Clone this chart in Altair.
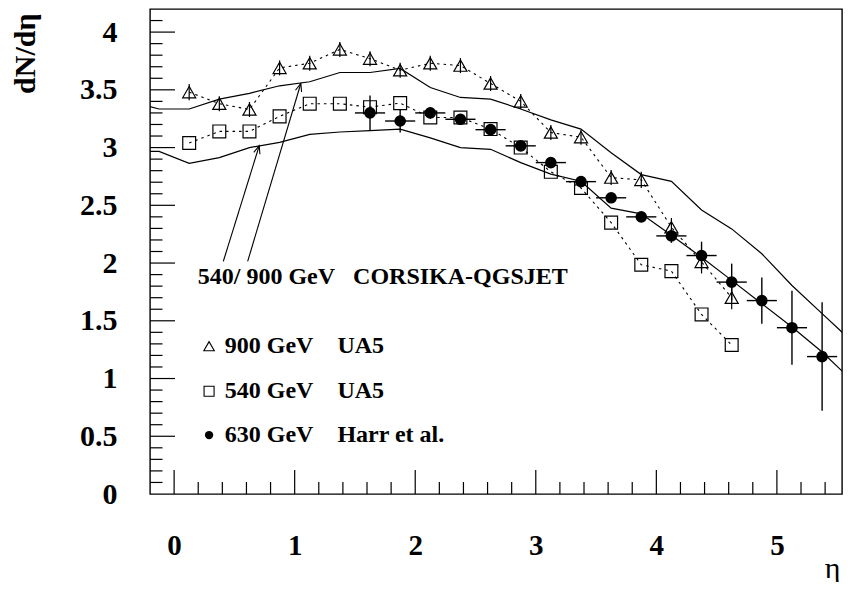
import math
import altair as alt
import numpy as np
import pandas as pd

# ---------------- data ----------------
ua5_eta = [0.125, 0.375, 0.625, 0.875, 1.125, 1.375, 1.625, 1.875, 2.125, 2.375,
           2.625, 2.875, 3.125, 3.375, 3.625, 3.875, 4.125, 4.375, 4.625]
ua5_900 = [3.48, 3.38, 3.33, 3.69, 3.73, 3.85, 3.77, 3.67, 3.73, 3.71,
           3.555, 3.40, 3.13, 3.09, 2.74, 2.72, 2.31, 2.01, 1.70]
ua5_900_err = [0.07, 0.065, 0.065, 0.065, 0.065, 0.065, 0.065, 0.065, 0.065, 0.065,
               0.065, 0.065, 0.065, 0.065, 0.065, 0.07, 0.08, 0.10, 0.10]
ua5_540 = [3.04, 3.14, 3.14, 3.27, 3.38, 3.38, 3.35, 3.385, 3.26, 3.26,
           3.16, 3.00, 2.79, 2.65, 2.35, 1.985, 1.93, 1.555, 1.29]

harr_eta = [1.625, 1.875, 2.125, 2.375, 2.625, 2.875, 3.125, 3.375, 3.625, 3.875,
            4.125, 4.375, 4.625, 4.875, 5.125, 5.375]
harr_630 = [3.30, 3.23, 3.30, 3.245, 3.155, 3.015, 2.87, 2.705, 2.565, 2.40,
            2.235, 2.065, 1.835, 1.675, 1.44, 1.19]
harr_err = [0.15, 0.10, 0.05, 0.04, 0.04, 0.04, 0.04, 0.04, 0.04, 0.04,
            0.06, 0.12, 0.16, 0.20, 0.32, 0.47]
harr_half_bin = 0.125

qgs_eta = [-0.375, -0.125, 0.125, 0.375, 0.625, 0.875, 1.125, 1.375, 1.625, 1.875,
           2.125, 2.375, 2.625, 2.875, 3.125, 3.375, 3.625, 3.875, 4.125, 4.375,
           4.625, 4.875, 5.125, 5.375, 5.625]
qgs_900 = [3.40, 3.334, 3.334, 3.42, 3.47, 3.535, 3.57, 3.65, 3.65, 3.685,
           3.52, 3.434, 3.42, 3.334, 3.24, 3.16, 2.955, 2.766, 2.708, 2.46,
           2.296, 2.08, 1.806, 1.562, 1.32]
qgs_540 = [2.97, 2.967, 2.863, 2.913, 3.00, 3.045, 3.114, 3.135, 3.146, 3.16,
           3.084, 3.00, 2.985, 2.87, 2.77, 2.708, 2.475, 2.426, 2.24, 2.05,
           1.85, 1.648, 1.446, 1.23, 0.98]

x_tick_labels = [0, 1, 2, 3, 4, 5]
y_tick_labels = [0, 0.5, 1, 1.5, 2, 2.5, 3, 3.5, 4]

arrow_x0 = [0.408, 0.61]
arrow_y0 = [2.014, 2.014]
arrow_x1 = [0.706, 1.051]
arrow_y1 = [3.016, 3.555]

note_text = "540/\u00a0900\u00a0GeV\u00a0\u00a0\u00a0CORSIKA-QGSJET"
note_x = [0.196]
note_y = [1.88]

legend_labels = ["900\u00a0GeV\u00a0\u00a0\u00a0\u00a0UA5",
                 "540\u00a0GeV\u00a0\u00a0\u00a0\u00a0UA5",
                 "630\u00a0GeV\u00a0\u00a0\u00a0\u00a0Harr et al."]
legend_y = [1.28, 0.89, 0.51]
legend_sym_x = 0.29
legend_txt_x = 0.42

# ---------------- geometry / style ----------------
W, H = 692, 485
XD = [-0.2, 5.54]
YD = [0.0, 4.2]
FONT = "Liberation Serif"

xs = alt.Scale(domain=XD, nice=False, zero=False)
ys = alt.Scale(domain=YD, nice=False, zero=False)

x_axis = alt.Axis(values=x_tick_labels, format="~g", ticks=False, tickSize=0, domain=False,
                  grid=False, labelFont=FONT, labelFontWeight="bold", labelFontSize=29,
                  labelColor="black", labelPadding=37, title="η", titleFont=FONT,
                  titleFontWeight="normal", titleFontSize=30, titleColor="black",
                  titleAlign="right", titleBaseline="alphabetic", titleX=W - 2, titleY=83)
y_axis = alt.Axis(values=y_tick_labels, format="~g", ticks=False, tickSize=0, domain=False,
                  grid=False, labelFont=FONT, labelFontWeight="bold", labelFontSize=30,
                  labelColor="black", labelPadding=33, title="dN/dη", titleFont=FONT,
                  titleFontWeight="bold", titleFontSize=30, titleColor="black",
                  titleAngle=270, titleAlign="right", titleBaseline="alphabetic",
                  titleX=-116, titleY=4)


def X(field):
    return alt.X(field, type="quantitative", scale=xs, axis=x_axis)


def Y(field):
    return alt.Y(field, type="quantitative", scale=ys, axis=y_axis)


# ---------------- tables ----------------
ua5 = pd.DataFrame({"x": ua5_eta, "y900": ua5_900, "e900": ua5_900_err, "y540": ua5_540})
ua5["lo"] = ua5["y900"] - ua5["e900"]
ua5["hi"] = ua5["y900"] + ua5["e900"]

harr = pd.DataFrame({"x": harr_eta, "y": harr_630, "e": harr_err})
harr["lo"] = harr["y"] - harr["e"]
harr["hi"] = harr["y"] + harr["e"]
harr["xl"] = harr["x"] - harr_half_bin
harr["xh"] = harr["x"] + harr_half_bin

qgs = pd.DataFrame({"x": qgs_eta * 2, "y": qgs_900 + qgs_540,
                    "s": ["900"] * len(qgs_eta) + ["540"] * len(qgs_eta)})

xt_major = pd.DataFrame({"v": x_tick_labels})
xt_minor = pd.DataFrame({"v": [v for v in np.round(np.arange(-0.2, 5.5, 0.2), 2)
                               if abs(v - round(v)) > 1e-6 and v > XD[0]]})
yt_major = pd.DataFrame({"v": [v for v in y_tick_labels if v > 0]})
yt_minor = pd.DataFrame({"v": [v for v in np.round(np.arange(0.1, 4.2, 0.1), 2)
                               if abs(v * 2 - round(v * 2)) > 1e-6]})

px_x = W / (XD[1] - XD[0])
px_y = H / (YD[1] - YD[0])
arrows = pd.DataFrame({"x0": arrow_x0, "y0": arrow_y0, "x1": arrow_x1, "y1": arrow_y1})
arrows["ang"] = [math.degrees(math.atan2((b - a) * px_x, (d - c) * px_y))
                 for a, b, c, d in zip(arrow_x0, arrow_x1, arrow_y0, arrow_y1)]

note = pd.DataFrame({"x": note_x, "y": note_y, "t": [note_text]})
legend = pd.DataFrame({"sx": [legend_sym_x] * 3, "tx": [legend_txt_x] * 3,
                       "y": legend_y, "t": legend_labels})

# ---------------- layers ----------------
tick_x_major = alt.Chart(xt_major).mark_rule(color="black", strokeWidth=1.2).encode(
    x=X("v"), y=alt.value(H), y2=alt.value(H - 24))
tick_x_minor = alt.Chart(xt_minor).mark_rule(color="black", strokeWidth=1.2).encode(
    x=X("v"), y=alt.value(H), y2=alt.value(H - 12))
tick_y_major = alt.Chart(yt_major).mark_rule(color="black", strokeWidth=1.2).encode(
    y=Y("v"), x=alt.value(0), x2=alt.value(25))
tick_y_minor = alt.Chart(yt_minor).mark_rule(color="black", strokeWidth=1.2).encode(
    y=Y("v"), x=alt.value(0), x2=alt.value(12.5))

qgs_lines = alt.Chart(qgs).mark_line(color="black", strokeWidth=1.2, clip=True).encode(
    x=X("x"), y=Y("y"), detail="s:N")

dot900 = alt.Chart(ua5).mark_line(color="black", strokeWidth=1.1, strokeDash=[2.5, 4]).encode(
    x=X("x"), y=Y("y900"))
dot540 = alt.Chart(ua5).mark_line(color="black", strokeWidth=1.1, strokeDash=[2.5, 4]).encode(
    x=X("x"), y=Y("y540"))

err900 = alt.Chart(ua5).mark_rule(color="black", strokeWidth=1.2).encode(
    x=X("x"), y=Y("lo"), y2="hi")
harr_v = alt.Chart(harr).mark_rule(color="black", strokeWidth=1.4).encode(
    x=X("x"), y=Y("lo"), y2="hi")
harr_h = alt.Chart(harr).mark_rule(color="black", strokeWidth=1.4).encode(
    x=X("xl"), x2="xh", y=Y("y"))

tri = alt.Chart(ua5).mark_point(shape="triangle-up", size=170, filled=False, color="black",
                                strokeWidth=1.2, opacity=1).encode(x=X("x"), y=Y("y900"))
sq = alt.Chart(ua5).mark_point(shape="square", size=165, filled=False, color="black",
                               strokeWidth=1.2, opacity=1).encode(x=X("x"), y=Y("y540"))
dots = alt.Chart(harr).mark_point(shape="circle", size=135, filled=True, color="black",
                                  opacity=1).encode(x=X("x"), y=Y("y"))

arrow_lines = alt.Chart(arrows).mark_rule(color="black", strokeWidth=1.1).encode(
    x=X("x0"), y=Y("y0"), x2="x1", y2="y1")
arrow_heads = alt.Chart(arrows).mark_point(
    shape="M -0.4 1 L 0 0 L 0.4 1", size=256, filled=False, color="black",
    strokeWidth=1.1, opacity=1).encode(x=X("x1"), y=Y("y1"), angle=alt.Angle("ang:Q", scale=None))

note_txt = alt.Chart(note).mark_text(align="left", baseline="middle", font=FONT,
                                     fontWeight="bold", fontSize=24, color="black").encode(
    x=X("x"), y=Y("y"), text="t:N")

leg_tri = alt.Chart(legend.iloc[[0]]).mark_point(shape="triangle-up", size=110, filled=False,
                                                 color="black", strokeWidth=1.1, opacity=1).encode(
    x=X("sx"), y=Y("y"))
leg_sq = alt.Chart(legend.iloc[[1]]).mark_point(shape="square", size=100, filled=False,
                                                color="black", strokeWidth=1.1, opacity=1).encode(
    x=X("sx"), y=Y("y"))
leg_dot = alt.Chart(legend.iloc[[2]]).mark_point(shape="circle", size=70, filled=True,
                                                 color="black", opacity=1).encode(
    x=X("sx"), y=Y("y"))
leg_txt = alt.Chart(legend).mark_text(align="left", baseline="middle", font=FONT,
                                      fontWeight="bold", fontSize=24, color="black").encode(
    x=X("tx"), y=Y("y"), text="t:N")

chart = alt.layer(
    tick_x_major, tick_x_minor, tick_y_major, tick_y_minor,
    qgs_lines, dot900, dot540, err900, harr_v, harr_h,
    tri, sq, dots, arrow_lines, arrow_heads, note_txt,
    leg_tri, leg_sq, leg_dot, leg_txt,
).properties(
    width=W, height=H,
    autosize=alt.AutoSizeParams(type="none"),
    padding={"left": 142, "top": 1, "right": 1, "bottom": 88},
    background="white",
).configure_view(stroke="black", strokeWidth=1.4)

chart.save("out.html", embed_options={"renderer": "svg", "actions": False})
